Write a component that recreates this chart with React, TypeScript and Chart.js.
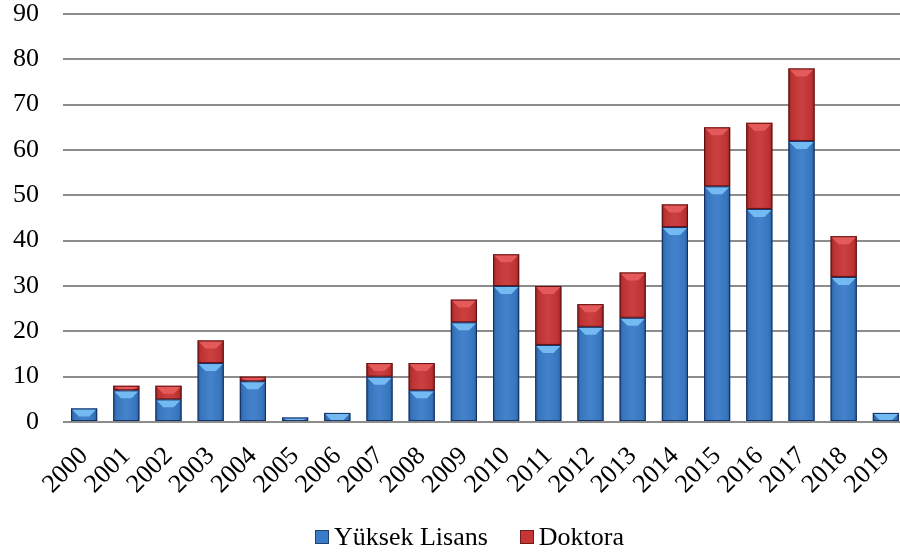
import React, { useEffect, useRef } from "react";
import { Chart, registerables } from "chart.js";

Chart.register(...registerables);

const years = ["2000","2001","2002","2003","2004","2005","2006","2007","2008","2009","2010","2011","2012","2013","2014","2015","2016","2017","2018","2019"];
const yuksekLisans = [3, 7, 5, 13, 9, 1, 2, 10, 7, 22, 30, 17, 21, 23, 43, 52, 47, 62, 32, 2];
const doktora = [0, 1, 3, 5, 1, 0, 0, 3, 6, 5, 7, 13, 5, 10, 5, 13, 19, 16, 9, 0];
const seriesNames = ["Yüksek Lisans", "Doktora"];

const FONT = "'Liberation Serif', 'Times New Roman', serif";
const BLUE = "#3a7cc9";
const RED = "#c83535";

const bevelPlugin = {
  id: "bevel",
  afterDatasetsDraw(chart: any) {
    const ctx = chart.ctx;
    const lights = ["#74baf2", "#e45a5a"];
    const edges = ["rgba(15,40,90,0.85)", "rgba(90,10,10,0.85)"];
    chart.data.datasets.forEach((ds: any, di: number) => {
      const meta = chart.getDatasetMeta(di);
      meta.data.forEach((bar: any) => {
        const { x, y, base, width } = bar.getProps(["x", "y", "base", "width"], true);
        const h = base - y;
        if (h < 0.5) return;
        const l = x - width / 2;
        const r = x + width / 2;
        ctx.save();
        const g = ctx.createLinearGradient(l, 0, r, 0);
        g.addColorStop(0, "rgba(0,0,0,0.32)");
        g.addColorStop(0.12, "rgba(0,0,0,0.06)");
        g.addColorStop(0.5, "rgba(255,255,255,0.05)");
        g.addColorStop(0.88, "rgba(0,0,0,0.06)");
        g.addColorStop(1, "rgba(0,0,0,0.32)");
        ctx.fillStyle = g;
        ctx.fillRect(l, y, width, h);
        const d = Math.min(8, h);
        ctx.beginPath();
        ctx.moveTo(l + 1, y + 1);
        ctx.lineTo(r - 1, y + 1);
        ctx.lineTo(x + width * 0.2, y + d);
        ctx.lineTo(x - width * 0.2, y + d);
        ctx.closePath();
        ctx.fillStyle = lights[di];
        ctx.fill();
        ctx.strokeStyle = edges[di];
        ctx.lineWidth = 1;
        ctx.strokeRect(l + 0.5, y + 0.5, width - 1, Math.max(h - 1, 0.5));
        ctx.restore();
      });
    });
  },
};

function LegendItem({ color, text, gap }: { color: string; text: string; gap: number }) {
  return (
    <span style={{ display: "inline-flex", alignItems: "center", marginRight: gap }}>
      <span style={{ display: "inline-block", width: 14, height: 14, background: color, border: "1px solid rgba(0,0,0,0.45)", boxSizing: "border-box", marginRight: 5 }} />
      <span>{text}</span>
    </span>
  );
}

export default function App() {
  const ref = useRef<HTMLCanvasElement>(null);
  useEffect(() => {
    if (!ref.current) return;
    const chart = new Chart(ref.current, {
      type: "bar",
      data: {
        labels: years,
        datasets: [
          { label: seriesNames[0], data: yuksekLisans, backgroundColor: BLUE, borderWidth: 0, barPercentage: 0.62, categoryPercentage: 1 },
          { label: seriesNames[1], data: doktora, backgroundColor: RED, borderWidth: 0, barPercentage: 0.62, categoryPercentage: 1 },
        ],
      },
      options: {
        animation: false,
        responsive: false,
        maintainAspectRatio: false,
        layout: { padding: { top: 14, right: 0, left: 0, bottom: 0 } },
        plugins: {
          tooltip: { enabled: false },
          legend: { display: false },
        },
        scales: {
          x: {
            stacked: true,
            grid: { display: false },
            border: { display: false },
            ticks: {
              font: { family: FONT, size: 26 },
              color: "#000",
              maxRotation: 45,
              minRotation: 45,
              autoSkip: false,
              padding: 11,
            },
            afterFit: (s: any) => { s.height = 132; s.paddingLeft = 0; s.paddingRight = 0; },
          },
          y: {
            stacked: true,
            min: 0,
            max: 90,
            grid: { color: "#8c8c8c", lineWidth: 2, drawTicks: false },
            border: { display: false },
            ticks: {
              stepSize: 10,
              font: { family: FONT, size: 26 },
              color: "#000",
              padding: 24,
            },
            afterFit: (s: any) => { s.width = 63; s.paddingTop = 0; s.paddingBottom = 0; },
          },
        },
      },
      plugins: [bevelPlugin],
    });
    return () => chart.destroy();
  }, []);
  return (
    <div style={{ position: "absolute", left: 0, top: 0, width: 900, height: 554, background: "#fff", overflow: "hidden" }}>
      <canvas ref={ref} width={907} height={554} style={{ width: 907, height: 554, display: "block" }} />
      <div style={{ position: "absolute", left: 315, top: 522, whiteSpace: "nowrap", fontFamily: FONT, fontSize: 26, lineHeight: "30px", color: "#000", display: "flex" }}>
        <LegendItem color={BLUE} text={seriesNames[0]} gap={32} />
        <LegendItem color={RED} text={seriesNames[1]} gap={0} />
      </div>
    </div>
  );
}
